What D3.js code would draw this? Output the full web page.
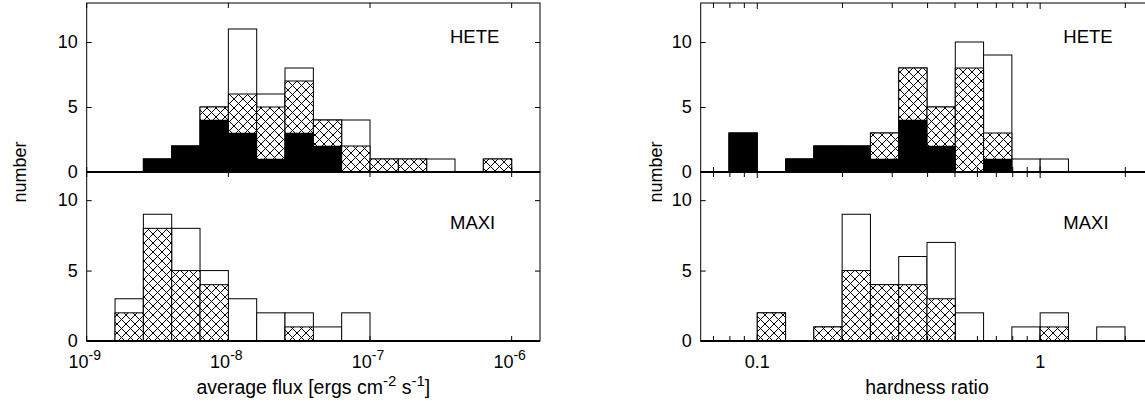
<!DOCTYPE html>
<html>
<head>
<meta charset="utf-8">
<script src="https://cdn.jsdelivr.net/npm/d3@7"></script>
<style>
  body { margin: 0; background: #fff; }
  svg { display: block; font-family: "Liberation Sans", Arial, Helvetica, sans-serif; }
</style>
</head>
<body>
<svg id="chart" width="1145" height="404"></svg>
<script>
// bin lower edges (log10) and counts
const fluxBins = [-8.8, -8.6, -8.4, -8.2, -8.0, -7.8, -7.6, -7.4, -7.2, -7.0, -6.8, -6.6, -6.4, -6.2];
const fluxBinWidth = 0.2;
const heteFluxAll   = [0, 1, 2, 5, 11, 6, 8, 4, 4, 1, 1, 1, 0, 1];
const heteFluxHatch = [0, 1, 2, 5, 6, 5, 7, 4, 2, 1, 1, 0, 0, 1];
const heteFluxBlack = [0, 1, 2, 4, 3, 1, 3, 2, 0, 0, 0, 0, 0, 0];
const maxiFluxAll   = [3, 9, 8, 5, 3, 2, 2, 1, 2, 0, 0, 0, 0, 0];
const maxiFluxHatch = [2, 8, 5, 4, 0, 0, 1, 0, 0, 0, 0, 0, 0, 0];

const hrBins = [-1.1, -1.0, -0.9, -0.8, -0.7, -0.6, -0.5, -0.4, -0.3, -0.2, -0.1, 0.0, 0.1, 0.2];
const hrBinWidth = 0.1;
const heteHrAll   = [3, 0, 1, 2, 2, 3, 8, 5, 10, 9, 1, 1, 0, 0];
const heteHrHatch = [3, 0, 1, 2, 2, 3, 8, 5, 8, 3, 0, 0, 0, 0];
const heteHrBlack = [3, 0, 1, 2, 2, 1, 4, 2, 0, 1, 0, 0, 0, 0];
const maxiHrAll   = [0, 2, 0, 1, 9, 4, 6, 7, 2, 0, 1, 2, 0, 1];
const maxiHrHatch = [0, 2, 0, 1, 5, 4, 4, 3, 0, 0, 0, 1, 0, 0];

const yTicks = [0, 5, 10];
const fluxTicks = [-9, -8, -7, -6];
const hrMajor = [0.1, 1];
const hrMinor = [0.07, 0.08, 0.09, 0.2, 0.3, 0.4, 0.5, 0.6, 0.7, 0.8, 0.9, 2];

const svg = d3.select("#chart");
const FS = 18;

// crosshatch pattern
const pat = svg.append("defs").append("pattern")
    .attr("id", "xhatch")
    .attr("patternUnits", "userSpaceOnUse")
    .attr("width", 9).attr("height", 9);
pat.append("rect").attr("width", 9).attr("height", 9).attr("fill", "#fff");
pat.append("path")
    .attr("d", "M0,0L9,9M9,0L0,9")
    .attr("stroke", "#000").attr("stroke-width", 1).attr("fill", "none");

// panel geometry
const yTop = d3.scaleLinear().domain([0, 13]).range([172, 3]);
const yBot = d3.scaleLinear().domain([0, 12]).range([341, 172]);

const xFlux = d3.scaleLinear().domain([-9, -5.8]).range([86.7, 540]); // log10 space
const xHr = d3.scaleLog().domain([Math.pow(10, -1.2), Math.pow(10, 0.4)]).range([700.7, 1153.3]);

function drawBars(g, bins, w, vals, xpos, y, style) {
    bins.forEach((b, i) => {
        const v = vals[i];
        if (!v) return;
        const x0 = xpos(b), x1 = xpos(b + w);
        const r = g.append("rect")
            .attr("x", x0).attr("width", x1 - x0)
            .attr("y", y(v)).attr("height", y(0) - y(v));
        if (style === "white") r.attr("fill", "#fff").attr("stroke", "#000").attr("stroke-width", 1);
        if (style === "hatch") r.attr("fill", "url(#xhatch)").attr("stroke", "#000").attr("stroke-width", 1);
        if (style === "black") r.attr("fill", "#000").attr("stroke", "#000").attr("stroke-width", 0.5);
    });
}

function frame(x0, x1, y) {
    const g = svg.append("g");
    const yt = y.range()[1], yb = y.range()[0];
    g.append("rect").attr("x", x0).attr("y", yt).attr("width", x1 - x0).attr("height", yb - yt)
        .attr("fill", "none").attr("stroke", "#000").attr("stroke-width", 1);
    g.append("line").attr("x1", x0).attr("x2", x1).attr("y1", yb).attr("y2", yb)
        .attr("stroke", "#000").attr("stroke-width", 2);
    // y ticks on both sides
    const axL = d3.axisLeft(y).tickValues(yTicks).tickSize(-5).tickPadding(9);
    const gl = g.append("g").attr("transform", `translate(${x0},0)`).call(axL);
    gl.select(".domain").remove();
    gl.selectAll("text").attr("font-size", FS).attr("fill", "#000").attr("font-family", null);
    gl.selectAll("line").attr("stroke", "#000");
    const axR = d3.axisRight(y).tickValues(yTicks).tickSize(-5).tickFormat("");
    const gr = g.append("g").attr("transform", `translate(${x1},0)`).call(axR);
    gr.select(".domain").remove();
    gr.selectAll("line").attr("stroke", "#000");
    return g;
}

function xTicks(g, positions, y, len) {
    const yt = y.range()[1], yb = y.range()[0];
    positions.forEach(px => {
        g.append("line").attr("x1", px).attr("x2", px).attr("y1", yt).attr("y2", yt + len)
            .attr("stroke", "#000");
        g.append("line").attr("x1", px).attr("x2", px).attr("y1", yb).attr("y2", yb - len)
            .attr("stroke", "#000");
    });
}

// ---- left: average flux ----
const fl = d3.scaleLinear().domain(xFlux.domain()).range(xFlux.range());
const gLT = svg.append("g");
drawBars(gLT, fluxBins, fluxBinWidth, heteFluxAll, fl, yTop, "white");
drawBars(gLT, fluxBins, fluxBinWidth, heteFluxHatch, fl, yTop, "hatch");
drawBars(gLT, fluxBins, fluxBinWidth, heteFluxBlack, fl, yTop, "black");
const gLB = svg.append("g");
drawBars(gLB, fluxBins, fluxBinWidth, maxiFluxAll, fl, yBot, "white");
drawBars(gLB, fluxBins, fluxBinWidth, maxiFluxHatch, fl, yBot, "hatch");

const fT = frame(86.7, 540, yTop);
const fB = frame(86.7, 540, yBot);
xTicks(fT, fluxTicks.map(fl), yTop, 5);
xTicks(fB, fluxTicks.map(fl), yBot, 5);

fluxTicks.forEach(t => {
    const txt = svg.append("text").attr("x", fl(t) - 2).attr("y", 368)
        .attr("text-anchor", "middle").attr("font-size", FS);
    txt.append("tspan").text("10");
    txt.append("tspan").attr("dy", -8).attr("font-size", 14).text(t);
});

const TS = 19.5;
const xl = svg.append("text").attr("x", (86.7 + 540) / 2).attr("y", 394)
    .attr("text-anchor", "middle").attr("font-size", TS);
xl.append("tspan").text("average flux [ergs cm");
xl.append("tspan").attr("dy", -8).attr("font-size", 15).text("-2");
xl.append("tspan").attr("dy", 8).text(" s");
xl.append("tspan").attr("dy", -8).attr("font-size", 15).text("-1");
xl.append("tspan").attr("dy", 8).text("]");

svg.append("text").attr("transform", "translate(26,172) rotate(-90)")
    .attr("text-anchor", "middle").attr("font-size", FS).text("number");

svg.append("text").attr("x", 450).attr("y", 43).attr("font-size", FS + 0.5).text("HETE");
svg.append("text").attr("x", 450).attr("y", 229).attr("font-size", FS + 0.5).text("MAXI");

// ---- right: hardness ratio ----
const hr = b => xHr(Math.pow(10, b));
const gRT = svg.append("g");
drawBars(gRT, hrBins, hrBinWidth, heteHrAll, hr, yTop, "white");
drawBars(gRT, hrBins, hrBinWidth, heteHrHatch, hr, yTop, "hatch");
drawBars(gRT, hrBins, hrBinWidth, heteHrBlack, hr, yTop, "black");
const gRB = svg.append("g");
drawBars(gRB, hrBins, hrBinWidth, maxiHrAll, hr, yBot, "white");
drawBars(gRB, hrBins, hrBinWidth, maxiHrHatch, hr, yBot, "hatch");

const rT = frame(700.7, 1153.3, yTop);
const rB = frame(700.7, 1153.3, yBot);
xTicks(rT, hrMajor.map(xHr), yTop, 6);
xTicks(rB, hrMajor.map(xHr), yBot, 6);
xTicks(rT, hrMinor.map(xHr), yTop, 5);
xTicks(rB, hrMinor.map(xHr), yBot, 5);

hrMajor.forEach(t => {
    svg.append("text").attr("x", xHr(t)).attr("y", 368)
        .attr("text-anchor", "middle").attr("font-size", FS).text(t);
});

svg.append("text").attr("x", (700.7 + 1153.3) / 2).attr("y", 394)
    .attr("text-anchor", "middle").attr("font-size", TS).text("hardness ratio");

svg.append("text").attr("transform", "translate(662,172) rotate(-90)")
    .attr("text-anchor", "middle").attr("font-size", FS).text("number");

svg.append("text").attr("x", 1063.3).attr("y", 43).attr("font-size", FS + 0.5).text("HETE");
svg.append("text").attr("x", 1063.3).attr("y", 229).attr("font-size", FS + 0.5).text("MAXI");
</script>
</body>
</html>
